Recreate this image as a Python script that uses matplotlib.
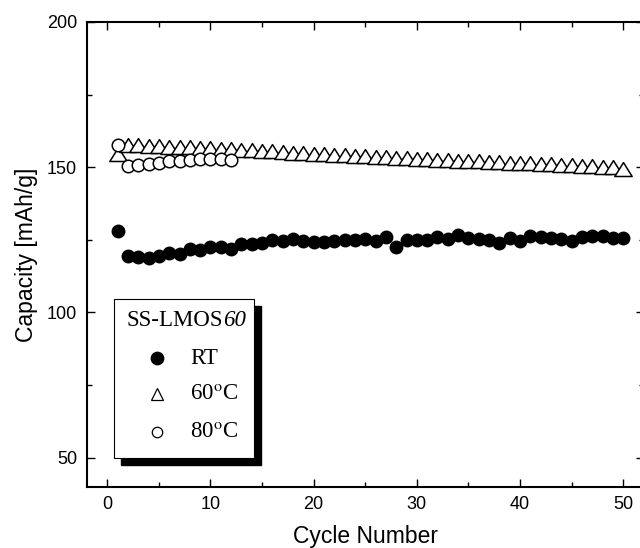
import numpy as np
import matplotlib
matplotlib.use("Agg")
import matplotlib.pyplot as plt
from matplotlib.patches import Rectangle
from matplotlib.lines import Line2D
from matplotlib.path import Path

plt.rcParams['font.family'] = ['Liberation Sans', 'DejaVu Sans']
plt.rcParams['mathtext.fontset'] = 'stix'

# datos
ciclos = np.arange(1, 51)
cap_rt = [128.2, 119.5, 119.1, 118.6, 119.5, 120.4, 120.2, 121.8, 121.4, 122.5,
          122.5, 122.0, 123.7, 123.4, 123.9, 124.8, 124.6, 125.3, 124.6, 124.3,
          124.3, 124.5, 124.8, 125.0, 125.3, 124.5, 126.0, 122.7, 124.8, 125.0,
          124.8, 126.0, 125.3, 126.8, 125.6, 125.3, 124.8, 123.9, 125.6, 124.5,
          126.4, 126.0, 125.6, 125.3, 124.5, 126.0, 126.4, 126.4, 125.6, 125.6]
cap_60 = [152.3, 155.2, 155.1, 155.0, 154.9, 154.7, 154.6, 154.4, 154.3, 154.1,
          154.0, 153.8, 153.6, 153.5, 153.3, 153.2, 153.0, 152.6, 152.4, 152.2,
          152.0, 151.9, 151.7, 151.5, 151.3, 151.2, 151.0, 150.8, 150.7, 150.5,
          150.3, 150.2, 150.0, 149.9, 149.8, 149.6, 149.5, 149.3, 149.2, 149.0,
          148.9, 148.7, 148.6, 148.4, 148.2, 148.1, 147.9, 147.8, 147.6, 147.1]
ciclos_80 = np.arange(1, 13)
cap_80 = [157.7, 150.3, 150.8, 151.2, 151.6, 152.0, 152.3, 152.5, 152.8, 152.8,
          152.8, 152.5]

# triangulo con la base en el valor (como en Origin)
tri = Path([(0, 1.6), (-1, 0), (1, 0), (0, 1.6)],
           [Path.MOVETO, Path.LINETO, Path.LINETO, Path.CLOSEPOLY])

fig = plt.figure(figsize=(6.4, 5.48), dpi=100)
ax = fig.add_axes([86.7/640, 1-486.7/548, (643.8-86.7)/640, (486.7-22)/548])

ax.plot(ciclos[1:], cap_60[1:], color='black', lw=0.8, zorder=2)
ax.plot(ciclos, cap_60, ls='none', marker=tri, ms=20, mfc='white', mec='black',
        mew=1.1, zorder=3)
ax.plot(ciclos_80, cap_80, ls='none', marker='o', ms=9, mfc='white', mec='black',
        mew=1.1, zorder=4)
ax.plot(ciclos, cap_rt, ls='none', marker='o', ms=9, mfc='black', mec='black',
        zorder=3)

ax.set_xlim(-2, 52)
ax.set_ylim(40, 200)
ax.set_xticks([0, 10, 20, 30, 40, 50])
ax.set_xticks(np.arange(5, 50, 10), minor=True)
ax.set_yticks([50, 100, 150, 200])
ax.set_yticks([75, 125, 175], minor=True)
ax.tick_params(which='both', direction='in', top=True, right=True,
               labelsize=13, width=1.0, pad=7)
ax.tick_params(which='major', length=6)
ax.tick_params(which='minor', length=3.5)
for s in ax.spines.values():
    s.set_linewidth(1.5)

ax.set_xlabel('Cycle Number', fontsize=16.5, labelpad=8)
ax.set_ylabel('Capacity [mAh/g]', fontsize=16.5, labelpad=6)

# leyenda con sombra, hecha a mano
W, H = 640.0, 548.0
bx, by, bw, bh = 114, 458, 140, 159
fig.add_artist(Rectangle(((bx+7)/W, 1-(by+7)/H), bw/W, bh/H, transform=fig.transFigure,
                         facecolor='black', edgecolor='black', zorder=5))
fig.add_artist(Rectangle((bx/W, 1-by/H), bw/W, bh/H, transform=fig.transFigure,
                         facecolor='white', edgecolor='black', lw=0.8, zorder=6))

serif = ['Liberation Serif', 'DejaVu Serif']
fig.text(223/W, 1-321/H, 'SS-LMOS', family=serif, fontsize=16.5,
         ha='right', va='center', zorder=7)
fig.text(223/W, 1-321/H, '60', family=serif, style='italic', fontsize=16.5,
         ha='left', va='center', zorder=7)
items = [('RT', 'o', 'black', 9), ('60$^{\\mathrm{o}}$C', '^', 'white', 8),
         ('80$^{\\mathrm{o}}$C', 'o', 'white', 7.5)]
for (lab, mk, fc, ms), yy in zip(items, [358, 394, 432]):
    fig.add_artist(Line2D([157/W], [1-yy/H], transform=fig.transFigure, ls='none',
                          marker=mk, ms=ms, mfc=fc, mec='black', mew=0.9, zorder=7))
    fig.text(190/W, 1-yy/H, lab, family=serif, fontsize=16.5, ha='left', va='center',
             zorder=7)

fig.savefig('out.png', dpi=100)
